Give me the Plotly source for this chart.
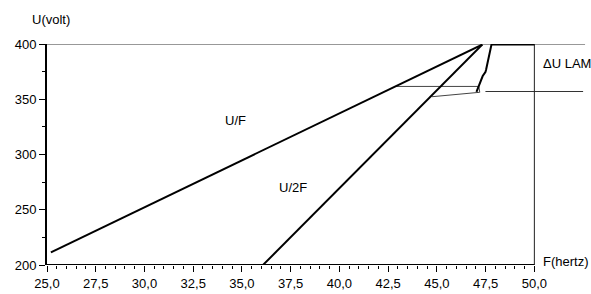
import plotly.graph_objects as go

# ---- data ----
freq_uf = [25.2, 42.2, 42.9, 47.33]
volt_uf = [211.5, 356.0, 361.6, 399.5]

freq_u2f = [36.08, 47.33]
volt_u2f = [200.0, 399.5]

# thin transition loop between the two laws
freq_loop = [42.9, 47.15, 47.2, 44.75]
volt_loop = [361.6, 361.6, 356.3, 352.3]

# steep ramp to full voltage then flat
freq_ramp = [47.03, 47.35, 47.49, 47.52, 47.8, 50.0]
volt_ramp = [356.7, 371.0, 374.7, 376.5, 399.5, 399.5]

# limit lines (ΔU LAMBDA band)
freq_top = [25.0, 52.6]
volt_top = [400.0, 400.0]
freq_low = [47.49, 52.5]
volt_low = [357.0, 357.0]

# frame
freq_right = [50.0, 50.0]
volt_right = [200.0, 400.0]
freq_bottom = [25.0, 50.0]
volt_bottom = [200.0, 200.0]

x_ticks = [25.0, 27.5, 30.0, 32.5, 35.0, 37.5, 40.0, 42.5, 45.0, 47.5, 50.0]
x_ticktext = ["25,0", "27,5", "30,0", "32,5", "35,0", "37,5", "40,0", "42,5", "45,0", "47,5", "50,0"]
x_minor = [25.0 + 0.5 * i for i in range(51) if (i % 5) != 0]
y_ticks = [200, 250, 300, 350, 400]

FONT = "Liberation Sans, Arial, sans-serif"
FS = 13

fig = go.Figure()

def add_line(x, y, w, color="black"):
    fig.add_trace(go.Scatter(x=x, y=y, mode="lines", cliponaxis=False,
                             line=dict(color=color, width=w), hoverinfo="skip",
                             showlegend=False))

add_line(freq_top, volt_top, 1, "#333333")
add_line(freq_low, volt_low, 1, "#333333")
add_line(freq_right, volt_right, 1, "#222222")
add_line(freq_bottom, volt_bottom, 2)
add_line(freq_loop, volt_loop, 1, "#444444")
add_line(freq_uf, volt_uf, 2)
add_line(freq_u2f, volt_u2f, 2)
add_line(freq_ramp, volt_ramp, 2)

anns = [
    dict(x=50.33, y=203.5, text="F(hertz)", xanchor="left", yanchor="middle"),
    dict(x=50.33, y=382.8, text="ΔU LAMBDA", xanchor="left", yanchor="middle"),
    dict(x=34.68, y=330.6, text="U/F", xanchor="center", yanchor="middle"),
    dict(x=37.63, y=270.3, text="U/2F", xanchor="center", yanchor="middle"),
]
for a in anns:
    fig.add_annotation(xref="x", yref="y", showarrow=False,
                       font=dict(family=FONT, size=FS, color="black"), **a)
fig.add_annotation(xref="paper", yref="paper", x=-0.0315, y=1.1086, text="U(volt)",
                   xanchor="left", yanchor="middle", showarrow=False,
                   font=dict(family=FONT, size=FS, color="black"))

fig.update_layout(
    width=591, height=294,
    margin=dict(l=47, r=4, t=44, b=29),
    paper_bgcolor="white", plot_bgcolor="white",
    font=dict(family=FONT, size=FS, color="black"),
    xaxis=dict(range=[25.0, 52.7], showgrid=False, zeroline=False, showline=False,
               tickmode="array", tickvals=x_ticks, ticktext=x_ticktext,
               ticks="outside", ticklen=6, tickwidth=1, tickcolor="black",
               minor=dict(tickmode="array", tickvals=x_minor, ticks="outside",
                          ticklen=3, tickwidth=1, tickcolor="black", showgrid=False),
               tickfont=dict(family=FONT, size=FS, color="black")),
    yaxis=dict(range=[200, 400], showgrid=False, zeroline=False, showline=True,
               linewidth=2, linecolor="black",
               tickmode="array", tickvals=y_ticks,
               ticks="outside", ticklen=6, tickwidth=1, tickcolor="black",
               minor=dict(dtick=25, ticks="outside", ticklen=3, tickwidth=1,
                          tickcolor="black", showgrid=False),
               tickfont=dict(family=FONT, size=FS, color="black")),
)

fig.write_html("out.html", config={"displayModeBar": False},
               post_script="document.body.style.margin='0';document.body.style.overflow='hidden';")
